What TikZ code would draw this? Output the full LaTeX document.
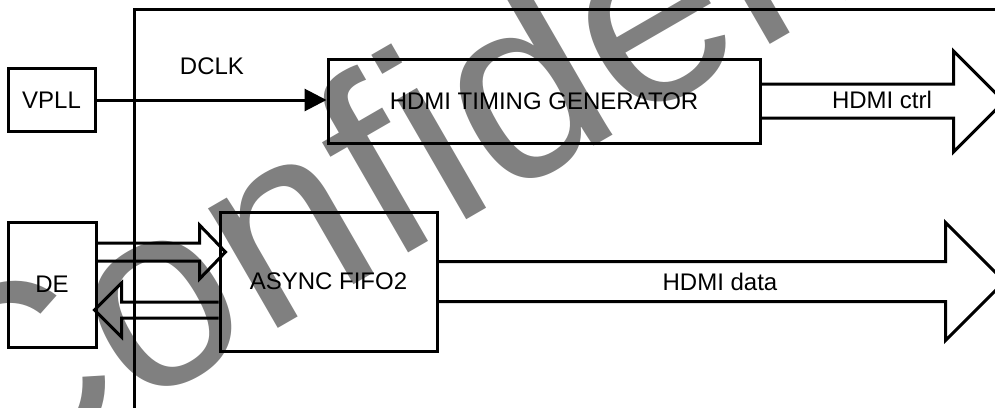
\documentclass[tikz,border=0pt]{standalone}
\usepackage{fontspec}
\setmainfont{Liberation Sans}
\newfontfamily\wmfont{Liberation Sans}
\usetikzlibrary{arrows.meta}
\definecolor{wm}{RGB}{128,128,128}
\begin{document}
\begin{tikzpicture}[x=1pt,y=-1pt,
  ln/.style={line width=3pt, line join=miter},
  box/.style={draw, ln, rectangle, inner sep=0pt, font=\fontsize{24}{28}\selectfont},
  lbl/.style={font=\fontsize{24}{28}\selectfont, inner sep=0pt},
  blk/.style={draw, ln}]
\useasboundingbox (0,0) rectangle (995,407);
\clip (0,0) rectangle (995,407);
% watermark
\node[rotate=30, anchor=base west, text=wm, font=\wmfont\fontsize{262}{300}\selectfont, inner sep=0pt] (wmark) at (-28,505) {Confidential};
% frame
\coordinate (fbl) at (134,420);
\coordinate (ftl) at (134,9);
\coordinate (ftr) at (1000,9);
\draw[ln] (fbl) -- (ftl) -- (ftr);
% boxes
\node[box, minimum width=87pt, minimum height=63pt] (vpll) at (51.5,100) {VPLL};
\node[box, minimum width=88pt, minimum height=125pt] (de) at (52,284.5) {DE};
\node[box, minimum width=432pt, minimum height=84pt] (timing) at (544,101) {HDMI TIMING GENERATOR};
\node[box, minimum width=217pt, minimum height=139pt] (fifo) at (328.5,281.5) {ASYNC FIFO2};
% labels
\node[lbl] (dclk) at (212,66) {DCLK};
\node[lbl] (ctrl) at (882,100) {HDMI ctrl};
\node[lbl] (data) at (720,282) {HDMI data};
% clock arrow
\draw[ln, -{Triangle[length=22pt,width=22pt]}] (vpll.east) -- (vpll.east -| timing.west);
% HDMI ctrl block arrow
\draw[blk] ([yshift=17pt]timing.east) -- ++(192,0) -- ++(0,-33) -- ++(50.5,50.5) -- ++(-50.5,50.5) -- ++(0,-34) -- ++(-192,0);
% HDMI data block arrow
\draw[blk] ([yshift=20pt]fifo.east) -- ++(507,0) -- ++(0,-39) -- ++(59,59) -- ++(-59,59) -- ++(0,-39) -- ++(-507,0);
% DE -> FIFO block arrow
\draw[blk] ([yshift=41.5pt]de.east) -- ++(102,0) -- ++(0,-18) -- ++(26,27) -- ++(-26,27) -- ++(0,-18) -- ++(-102,0);
% FIFO -> DE block arrow
\draw[blk] ([yshift=-20.5pt]fifo.west) -- ++(-97,0) -- ++(0,-19) -- ++(-27,27) -- ++(27,27) -- ++(0,-19) -- ++(97,0);
\end{tikzpicture}
\end{document}
